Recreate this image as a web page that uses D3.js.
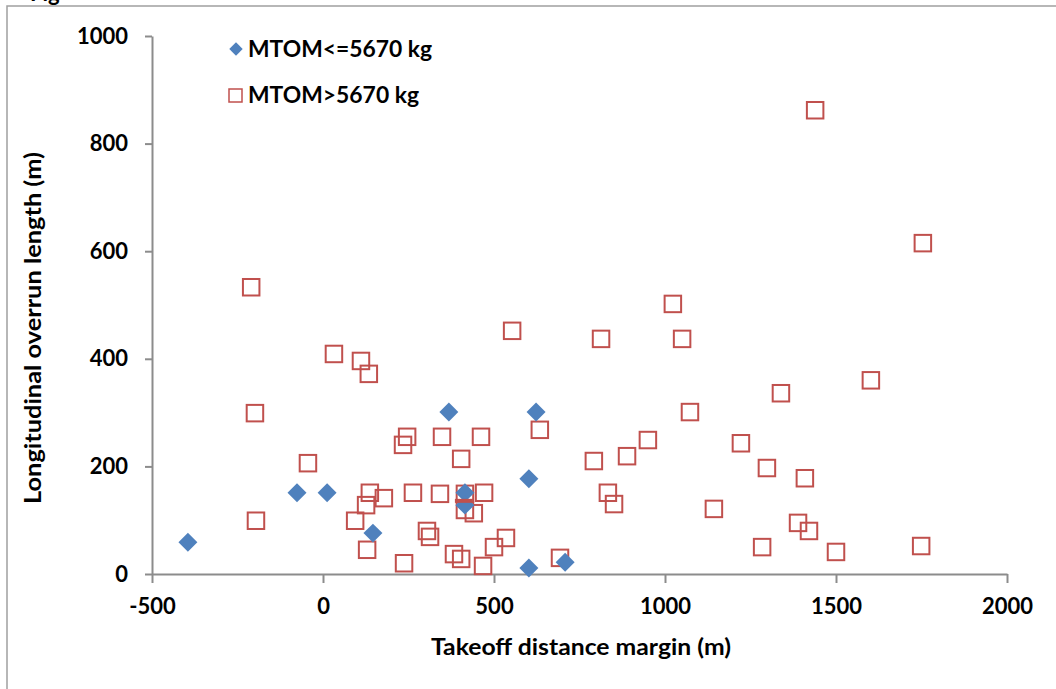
<!DOCTYPE html>
<html>
<head>
<meta charset="utf-8">
<script src="https://cdn.jsdelivr.net/npm/d3@7"></script>
<style>
  body { margin: 0; background: #fff; }
  svg text { font-family: Lato, Calibri, "Open Sans", sans-serif; font-weight: bold; fill: #000; }
  .axis path, .axis line { stroke: #8c8c8c; stroke-width: 2; }
  .axis text { font-size: 22px; }
</style>
</head>
<body>
<div id="graph"></div>
<script>
// Series: takeoff distance margin (m), overrun length (m)
var lightX = [ -395, -76, 12, 146, 368, 623, 602, 415, 415, 602, 708 ];
var lightY = [   59, 151, 151, 76, 301, 301, 177, 151, 128,  11,  22 ];

var heavyX = [ -210, -199, -196, -44, 32, 111, 134, 94, 126, 137, 129, 178, 237, 234, 246, 263,
               304, 313, 348, 342, 383, 404, 404, 415, 415, 441, 462, 471, 468, 500, 535, 553,
               634, 693, 792, 813, 833, 851, 889, 950, 1023, 1050, 1073, 1143, 1222, 1298, 1284,
               1339, 1389, 1409, 1421, 1439, 1500, 1602, 1749, 1754 ];
var heavyY = [ 533, 299, 99, 206, 409, 396, 372, 99, 128, 151, 45, 141, 20, 240, 255, 151,
               80, 69, 255, 149, 37, 28, 214, 149, 119, 113, 255, 151, 15, 50, 67, 452,
               268, 30, 210, 437, 151, 130, 219, 249, 502, 437, 301, 121, 243, 197, 50,
               336, 95, 178, 80, 862, 41, 360, 52, 615 ];

// short red dash over the overlapping points near (415, 136)
var dashX = [ 412 ];
var dashY = [ 136 ];

var xTicks = [ -500, 0, 500, 1000, 1500, 2000 ];
var yTicks = [ 0, 200, 400, 600, 800, 1000 ];

var legendLabels = [ 'MTOM<=5670 kg', 'MTOM>5670 kg' ];

var blue = '#4f81bd';
var red  = '#c0504d';

function Chart ()
{
    var width  = 1056;
    var height = 689;

    var svg = d3.select ('#graph')
                .append ('svg')
                .attr ('width', width)
                .attr ('height', height);

    // outer chart frame (runs off the right and bottom of the picture)
    svg.append ('rect')
       .attr ('x', 7).attr ('y', 6)
       .attr ('width', 1100).attr ('height', 720)
       .attr ('fill', 'none')
       .attr ('stroke', '#a0a0a0')
       .attr ('stroke-width', 1.5);

    // cut-off caption line above the frame
    svg.append ('text')
       .attr ('x', 30).attr ('y', 1)
       .style ('font-size', '22px')
       .text ('Fig');

    var xScale = d3.scaleLinear ()
                   .domain ([ -500, 2000 ])
                   .range ([ 152, 1007 ]);

    var yScale = d3.scaleLinear ()
                   .domain ([ 0, 1000 ])
                   .range ([ 574, 36 ]);

    var xAxis = d3.axisBottom (xScale)
                  .tickValues (xTicks)
                  .tickFormat (function (d) { return String (d); })
                  .tickSize (9)
                  .tickSizeOuter (0)
                  .tickPadding (15);

    var yAxis = d3.axisLeft (yScale)
                  .tickValues (yTicks)
                  .tickFormat (function (d) { return String (d); })
                  .tickSize (7)
                  .tickSizeOuter (0)
                  .tickPadding (17);

    svg.append ('g')
       .attr ('class', 'x axis')
       .attr ('transform', 'translate(0,' + yScale (0) + ')')
       .call (xAxis);

    svg.append ('g')
       .attr ('class', 'y axis')
       .attr ('transform', 'translate(' + xScale (-500) + ',0)')
       .call (yAxis);

    d3.selectAll ('.axis text').style ('fill', '#000');

    // axis titles
    svg.append ('text')
       .attr ('x', 581).attr ('y', 655)
       .attr ('text-anchor', 'middle')
       .attr ('textLength', 300)
       .attr ('lengthAdjust', 'spacingAndGlyphs')
       .style ('font-size', '22px')
       .text ('Takeoff distance margin (m)');

    svg.append ('text')
       .attr ('transform', 'translate(41,328) rotate(-90)')
       .attr ('text-anchor', 'middle')
       .attr ('textLength', 352)
       .attr ('lengthAdjust', 'spacingAndGlyphs')
       .style ('font-size', '22px')
       .text ('Longitudinal overrun length (m)');

    var heavy = d3.range (heavyX.length).map (function (i) { return { x: heavyX[i], y: heavyY[i] }; });
    var light = d3.range (lightX.length).map (function (i) { return { x: lightX[i], y: lightY[i] }; });
    var dash  = d3.range (dashX.length).map (function (i) { return { x: dashX[i], y: dashY[i] }; });

    var sq = 16.5;

    svg.append ('g')
       .selectAll ('rect')
       .data (heavy)
       .enter ()
       .append ('rect')
       .attr ('x', function (d) { return xScale (d.x) - sq / 2; })
       .attr ('y', function (d) { return yScale (d.y) - sq / 2; })
       .attr ('width', sq)
       .attr ('height', sq)
       .attr ('fill', 'none')
       .attr ('stroke', red)
       .attr ('stroke-width', 2);

    var diamond = d3.symbol ().type (d3.symbolSquare).size (180);

    svg.append ('g')
       .selectAll ('path')
       .data (light)
       .enter ()
       .append ('path')
       .attr ('d', diamond)
       .attr ('transform', function (d) { return 'translate(' + xScale (d.x) + ',' + yScale (d.y) + ') rotate(45)'; })
       .attr ('fill', blue);

    svg.append ('g')
       .selectAll ('line')
       .data (dash)
       .enter ()
       .append ('line')
       .attr ('x1', function (d) { return xScale (d.x) - 9; })
       .attr ('x2', function (d) { return xScale (d.x) + 9; })
       .attr ('y1', function (d) { return yScale (d.y); })
       .attr ('y2', function (d) { return yScale (d.y); })
       .attr ('stroke', red)
       .attr ('stroke-width', 4);

    // legend
    var legend = svg.append ('g');

    legend.append ('path')
          .attr ('d', d3.symbol ().type (d3.symbolSquare).size (90))
          .attr ('transform', 'translate(236,49) rotate(45)')
          .attr ('fill', blue);

    legend.append ('rect')
          .attr ('x', 229).attr ('y', 89)
          .attr ('width', 13).attr ('height', 13)
          .attr ('fill', 'none')
          .attr ('stroke', red)
          .attr ('stroke-width', 1.5);

    legend.selectAll ('text')
          .data (legendLabels)
          .enter ()
          .append ('text')
          .attr ('x', 248)
          .attr ('y', function (d, i) { return 57 + i * 46; })
          .attr ('textLength', function (d, i) { return i === 0 ? 184 : 171; })
          .attr ('lengthAdjust', 'spacingAndGlyphs')
          .style ('font-size', '22px')
          .text (function (d) { return d; });
}

Chart ();
</script>
</body>
</html>
